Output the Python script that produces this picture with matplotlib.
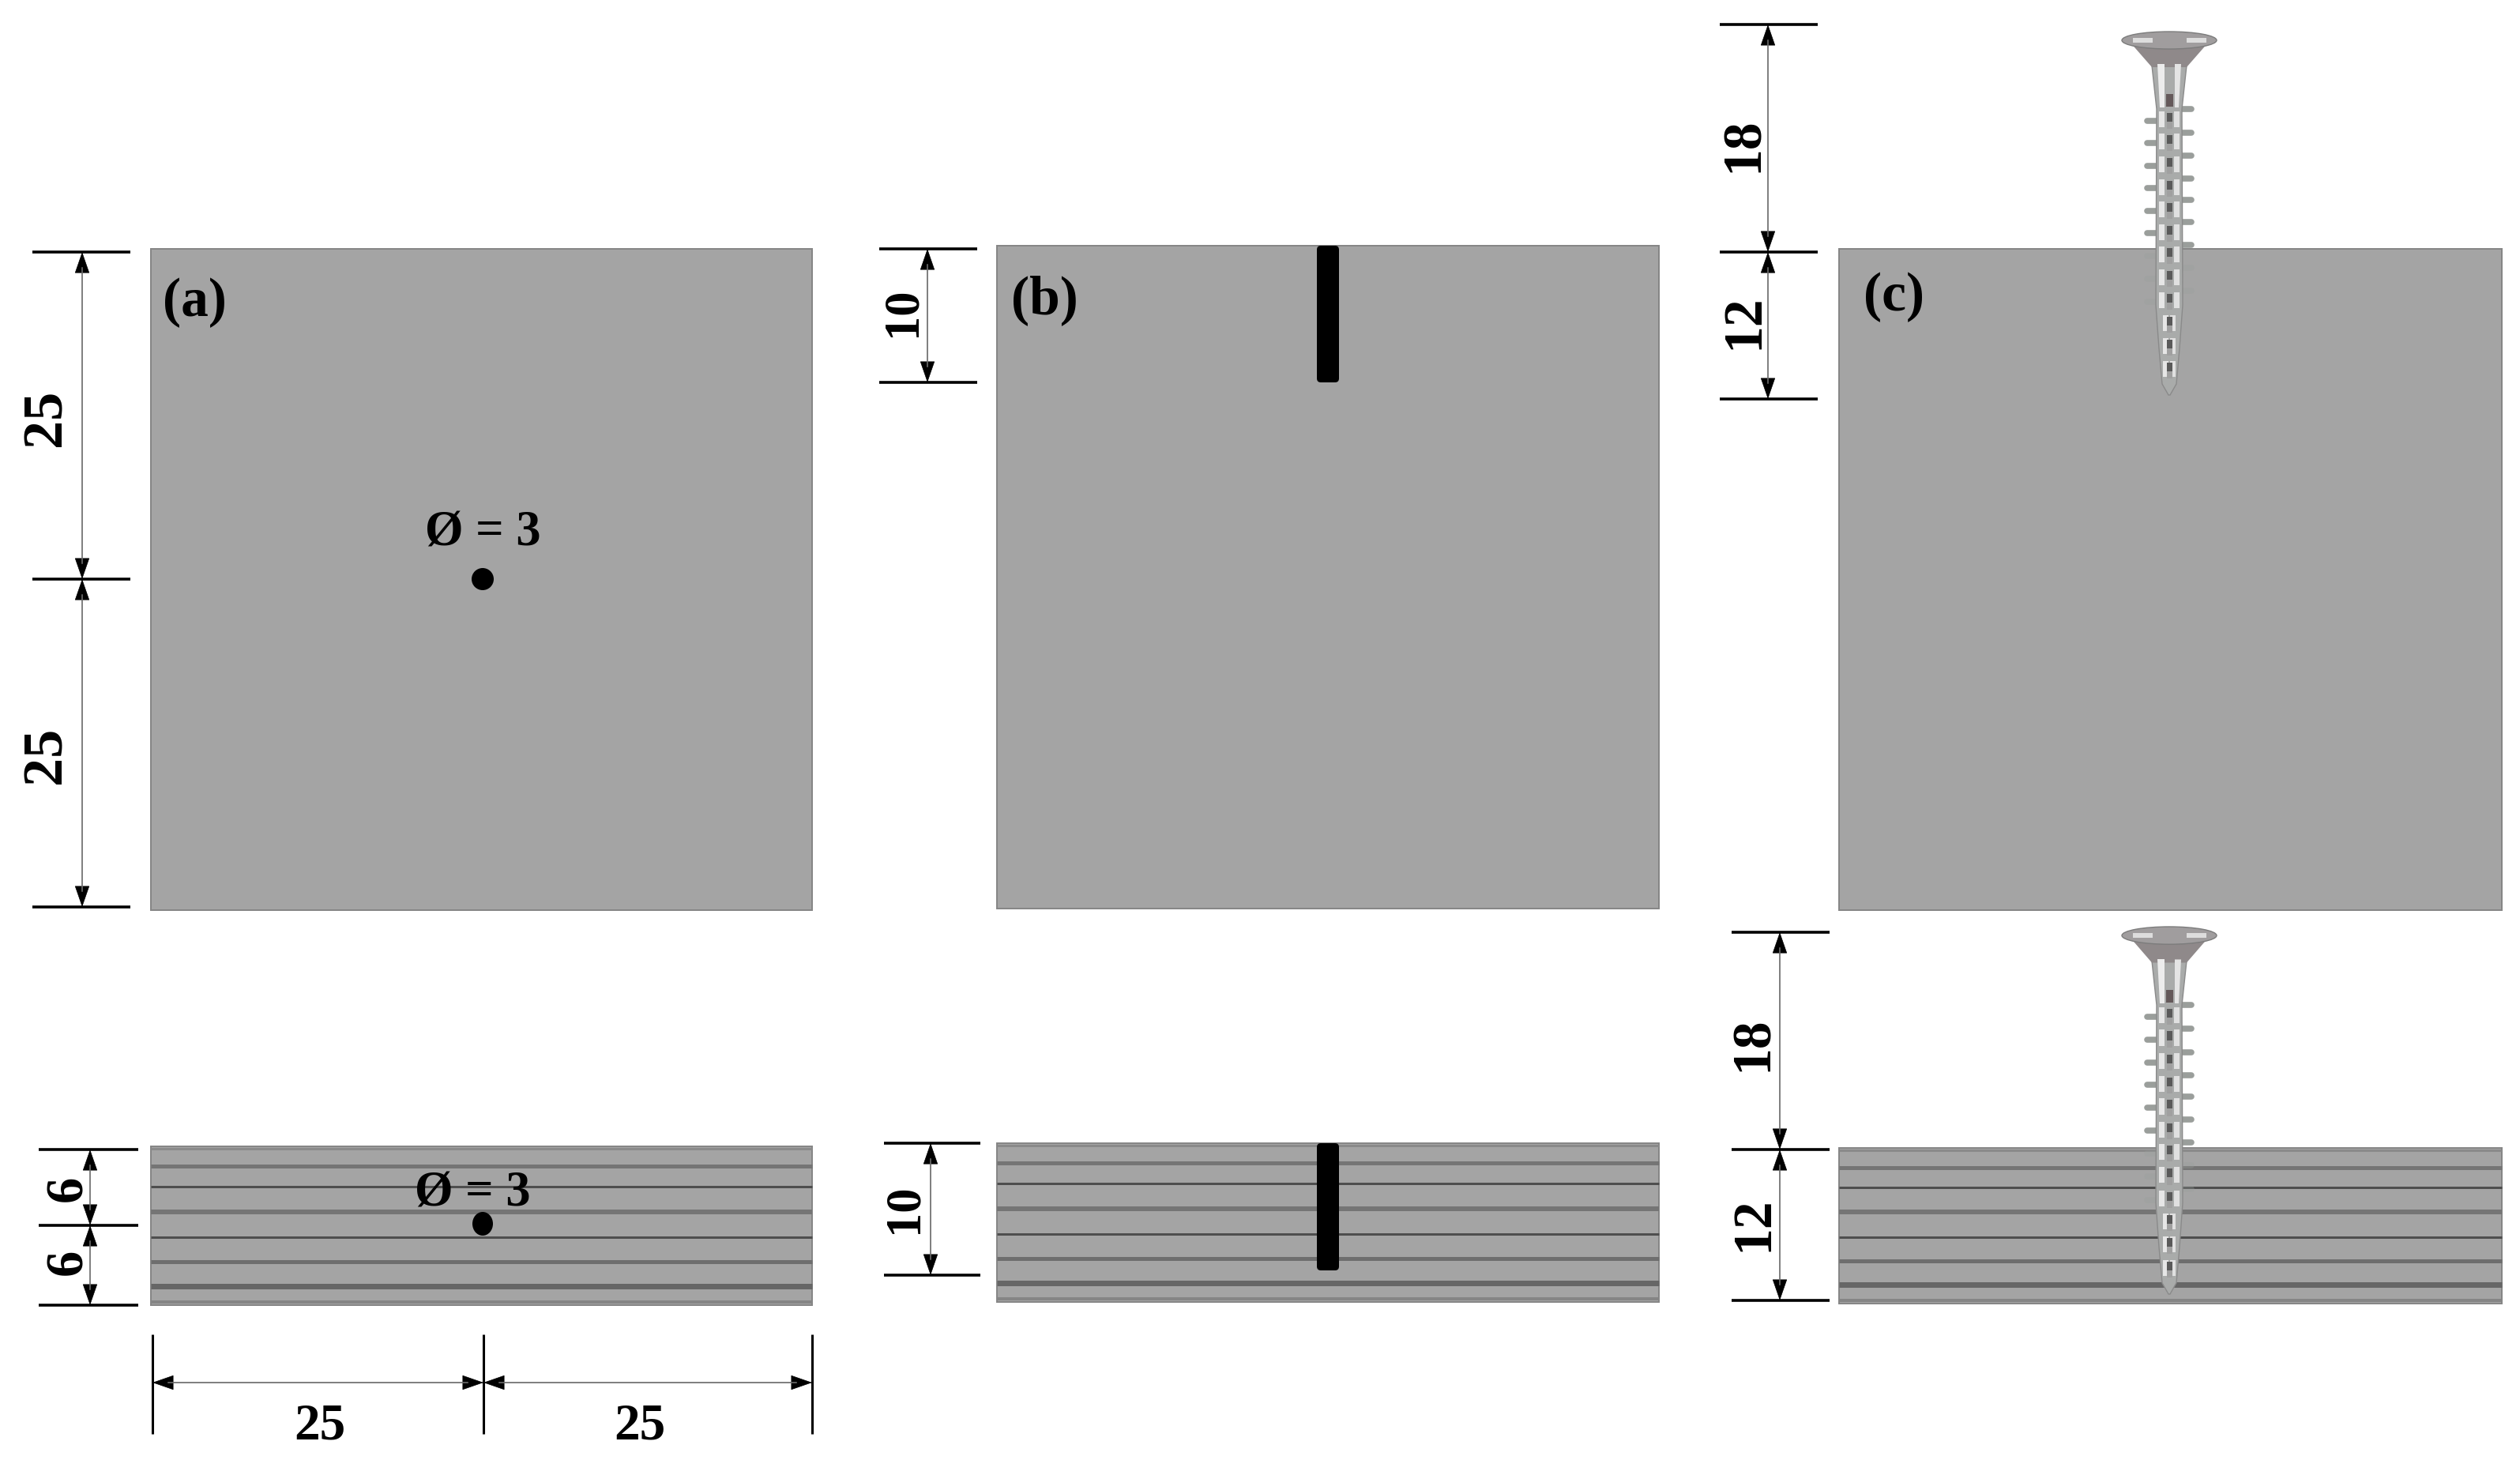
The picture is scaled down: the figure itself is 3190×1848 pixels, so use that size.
import matplotlib
matplotlib.use("Agg")
import matplotlib.pyplot as plt
from matplotlib.patches import Rectangle, Ellipse, Polygon, FancyBboxPatch

W, H = 3190, 1848
SERIF = "Liberation Serif"
GRAY = "#a4a4a4"

# panels: (x0, x1, y0, y1) in reference pixels
top_panels = [(191, 1028, 315, 1152), (1262, 2100, 311, 1150), (2328, 3167, 315, 1152)]
side_panels = [(191, 1028, 1451, 1652), (1262, 2100, 1447, 1648), (2328, 3167, 1453, 1650)]
layer_offsets = [3, 25, 51, 83, 115, 146, 177, 197]
layer_widths = [3, 5, 3, 6, 3, 5, 7, 4]
layer_colors = ["#8a8a8a", "#757575", "#4e4e4e", "#757575", "#4e4e4e", "#6e6e6e", "#666666", "#858585"]

# vertical dimension chains: (tick x0, tick x1, line x, tick ys)
v_dims = [
    (41, 165, 104, [319, 733, 1148]),
    (49, 175, 114, [1455, 1551, 1652]),
    (1113, 1237, 1174, [315, 484]),
    (1119, 1241, 1178, [1447, 1614]),
    (2177, 2301, 2238, [31, 319, 505]),
    (2192, 2316, 2253, [1180, 1455, 1646]),
]
# horizontal dimension chain: (tick y0, tick y1, line y, tick xs)
h_dim = (1689, 1815, 1750, [193, 612, 1028])

# dimension labels: (text, x, y, rotation, font size)
dim_labels = [
    ("25", 59, 529, 90, 52), ("25", 59, 956, 90, 52),
    ("6", 87, 1504, 90, 48), ("6", 87, 1597, 90, 48),
    ("10", 1143, 395, 90, 45), ("10", 1146, 1530, 90, 45),
    ("18", 2208, 183, 90, 50), ("12", 2208, 407, 90, 50),
    ("18", 2220, 1321, 90, 50), ("12", 2220, 1549, 90, 50),
    ("25", 405, 1805, 0, 47), ("25", 810, 1805, 0, 47),
]
hole_labels = [("Ø = 3", 611, 676), ("Ø = 3", 598, 1512)]
holes = [(611, 733, 28, 28), (611, 1549, 26, 30)]
panel_tags = [("(a)", 246, 383), ("(b)", 1322, 380), ("(c)", 2397, 376)]
slots = [(1667, 1695, 311, 484), (1667, 1695, 1447, 1608)]

# screws: (centre x, top y, total length, y where it enters the panel)
screws = [(2746, 41, 459, 315), (2746, 1174, 464, 1453)]
thread_left = [112, 140, 169, 197, 226, 254, 283, 312, 341]
thread_right = [97, 127, 156, 185, 212, 240, 269, 298, 327]
shank_cells = [100, 128, 157, 186, 214, 243, 271, 300, 329, 358, 387, 416]

fig = plt.figure(figsize=(W / 100, H / 100), dpi=100, facecolor="white")
ax = fig.add_axes([0, 0, 1, 1])
ax.set_xlim(0, W)
ax.set_ylim(H, 0)
ax.axis("off")

for x0, x1, y0, y1 in top_panels + side_panels:
    ax.add_patch(Rectangle((x0, y0), x1 - x0, y1 - y0, fc=GRAY, ec="#858585", lw=1.4, zorder=1))

for x0, x1, y0, y1 in side_panels:
    scale = (y1 - y0) / 201
    for off, lw, col in zip(layer_offsets, layer_widths, layer_colors):
        y = y0 + off * scale
        ax.plot([x0, x1], [y, y], color=col, lw=lw * 0.72, solid_capstyle="butt", zorder=2)


def arrow(ax, p, q):
    ax.annotate("", xy=q, xytext=p, zorder=4,
                arrowprops=dict(arrowstyle="<|-|>,head_length=0.95,head_width=0.33",
                                color="black", lw=0.5, shrinkA=0, shrinkB=0,
                                mutation_scale=19))
    dx = 20 if p[0] != q[0] else 0
    dy = 20 if p[1] != q[1] else 0
    ax.plot([p[0] + dx, q[0] - dx], [p[1] + dy, q[1] - dy], color="#777777", lw=1.1, zorder=4.5)


for x0, x1, lx, ys in v_dims:
    for y in ys:
        ax.plot([x0, x1], [y, y], color="black", lw=2.6, solid_capstyle="butt", zorder=3)
    for a, b in zip(ys[:-1], ys[1:]):
        arrow(ax, (lx, a), (lx, b))

y0, y1, ly, xs = h_dim
for x in xs:
    ax.plot([x, x], [y0, y1], color="black", lw=2.2, solid_capstyle="butt", zorder=3)
for a, b in zip(xs[:-1], xs[1:]):
    arrow(ax, (a, ly), (b, ly))

for txt, x, y, rot, size in dim_labels:
    ax.text(x, y, txt, family=SERIF, weight="bold", fontsize=size, rotation=rot,
            ha="center", va="center", color="black", zorder=5)
for txt, x, y in hole_labels:
    ax.text(x, y, txt, family=SERIF, weight="bold", fontsize=45, ha="center", va="center",
            color="black", zorder=5)
for txt, x, y in panel_tags:
    ax.text(x, y, txt, family=SERIF, weight="bold", fontsize=50, ha="center", va="center",
            color="black", zorder=5)
for x, y, w, h in holes:
    ax.add_patch(Ellipse((x, y), w, h, fc="black", ec="none", zorder=4))
for x0, x1, y0, y1 in slots:
    ax.add_patch(FancyBboxPatch((x0 + 4, y0 + 4), x1 - x0 - 8, y1 - y0 - 8,
                                boxstyle="round,pad=4,rounding_size=5",
                                fc="black", ec="none", zorder=4))


def draw_screw(ax, cx, top, length, surface):
    s = length / 459
    Y = lambda v: top + v * s
    z = 6
    # threads: short thick stubs on either side, faint inside the panel
    for vals, sign in ((thread_left, -1), (thread_right, 1)):
        for v in vals:
            inside = Y(v) > surface
            ax.plot([cx + sign * 14, cx + sign * 28], [Y(v), Y(v)], color="#9a9e9b", lw=5.5,
                    alpha=0.3 if inside else 1, solid_capstyle="round", zorder=z)
    # shank and taper
    ax.add_patch(Polygon([(cx - 22, Y(42)), (cx + 22, Y(42)), (cx + 16, Y(97)), (cx + 17, Y(345)),
                          (cx + 13, Y(400)), (cx + 9, Y(445)), (cx + 1, Y(459)), (cx - 1, Y(459)),
                          (cx - 9, Y(445)), (cx - 13, Y(400)), (cx - 17, Y(345)), (cx - 16, Y(97))],
                         fc="#a9abaa", ec="#8a8a8a", lw=1, zorder=z + 1))
    # head: cone and disc
    ax.add_patch(Polygon([(cx - 50, Y(12)), (cx + 50, Y(12)), (cx + 22, Y(44)), (cx - 22, Y(44))],
                         fc="#8f898a", ec="none", zorder=z + 2))
    ax.add_patch(Ellipse((cx, Y(10)), 120, 22 * s, fc="#a09d9e", ec="#7c7c7c", lw=1, zorder=z + 2))
    for x0 in (-46, 22):
        ax.add_patch(Rectangle((cx + x0, Y(7)), 25, 6 * s, fc="#dddddd", ec="none", zorder=z + 3))
    # neck highlights
    ax.add_patch(Polygon([(cx - 15, Y(40)), (cx - 6, Y(40)), (cx - 6, Y(95)), (cx - 12, Y(95))],
                         fc="#ececec", ec="none", zorder=z + 3))
    ax.add_patch(Polygon([(cx + 7, Y(40)), (cx + 15, Y(40)), (cx + 12, Y(95)), (cx + 7, Y(95))],
                         fc="#e4e4e4", ec="none", zorder=z + 3))
    ax.add_patch(Rectangle((cx - 4, Y(78)), 9, 16 * s, fc="#64595a", ec="none", zorder=z + 3))
    # mottled highlights repeated along the shank
    for v in shank_cells:
        half = 13 if v < 345 else 8
        ax.add_patch(Rectangle((cx - half, Y(v)), 7, 20 * s, fc="#e6e6e6", ec="none", zorder=z + 3))
        ax.add_patch(Rectangle((cx + half - 7, Y(v)), 7, 20 * s, fc="#e0e0e0", ec="none", zorder=z + 3))
        ax.add_patch(Rectangle((cx - 3, Y(v + 2)), 7, 11 * s, fc="#5a5a5a", ec="none", zorder=z + 3))
        ax.add_patch(Rectangle((cx - 3, Y(v + 13)), 7, 9 * s, fc="#a0a0a0", ec="none", zorder=z + 3))


for cx, top, length, surface in screws:
    draw_screw(ax, cx, top, length, surface)

fig.savefig("out.png", dpi=100, facecolor="white")
